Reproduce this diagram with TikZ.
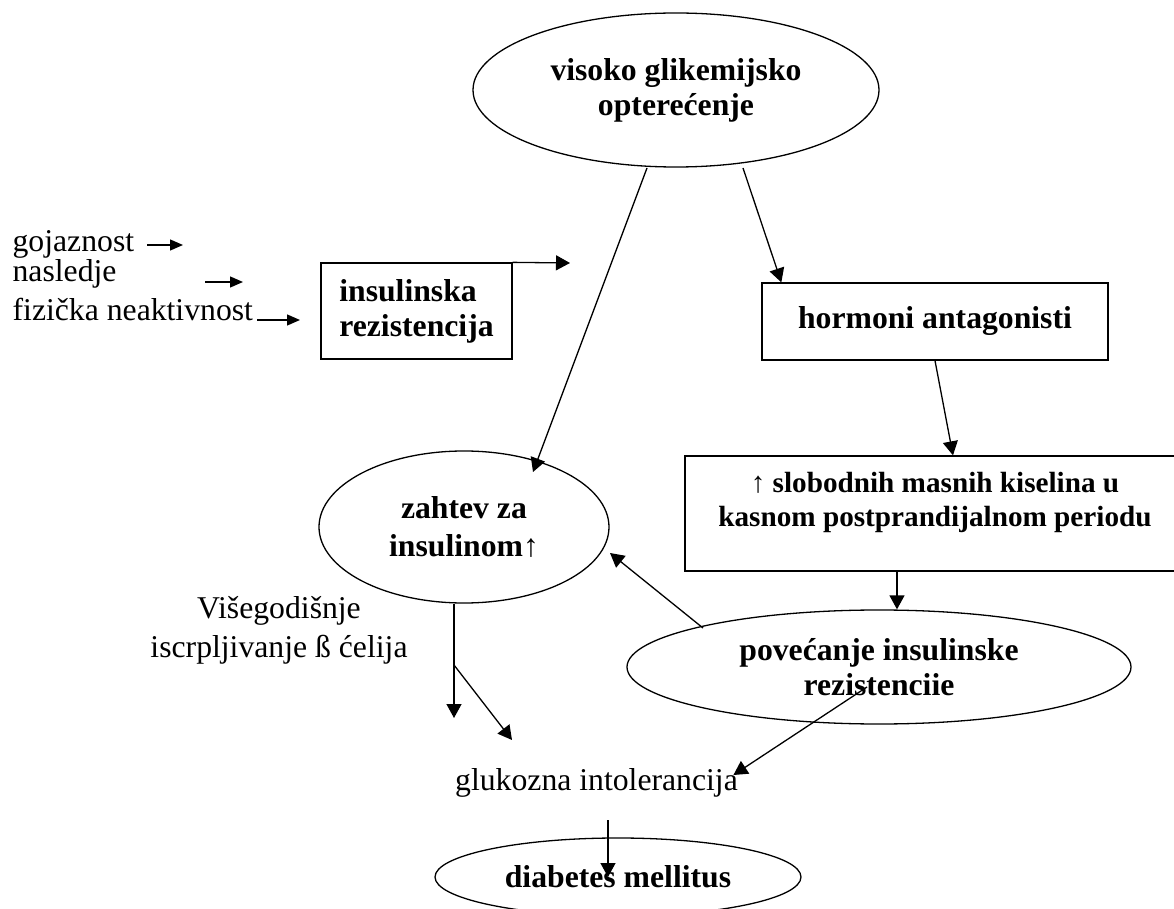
\documentclass[tikz,border=0pt]{standalone}
\usepackage{fontspec}
\setmainfont{Liberation Serif}
\usetikzlibrary{shapes.geometric,arrows.meta}
\newcommand{\dfont}{\fontsize{15.85}{17.5}\selectfont}
\begin{document}
\begin{tikzpicture}[x=0.5pt, y=-0.5pt, line width=0.65pt, >={Triangle[length=7pt,width=7.5pt]},
  bx/.style={draw, rectangle, inner sep=0pt, font=\dfont\bfseries},
  el/.style={draw, ellipse, inner sep=0pt, align=center, font=\dfont\bfseries},
  tx/.style={inner sep=0pt, font=\dfont},
  sa/.style={-{Triangle[length=6.5pt,width=5.5pt]}}]
\useasboundingbox (0,0) rectangle (1174,909);
\clip (0,0) rectangle (1174,909);

\node[el, minimum width=203pt, minimum height=77pt] (vg) at (676,90) {visoko glikemijsko\\opterećenje};
\node[bx, minimum width=95.5pt, minimum height=48pt, align=left] (ir) at (416.5,311) {insulinska\\rezistencija};
\node[bx, minimum width=173pt, minimum height=38.5pt] (ha) at (935,321.5) {hormoni antagonisti};
\node[bx, minimum width=250pt, minimum height=57.5pt] (sm) at (935,513.5) {};
\node[tx, font=\fontsize{14.6}{17}\selectfont\bfseries, align=center] (smt) at (935,502) {↑ slobodnih masnih kiselina u\\kasnom postprandijalnom periodu};
\node[el, minimum width=145pt, minimum height=76pt, font=\fontsize{15.85}{19}\selectfont\bfseries] (zi) at (464,527) {zahtev za\\insulinom↑};
\node[el, minimum width=252pt, minimum height=57pt] (pr) at (879,667) {povećanje insulinske\\rezistenciie};
\node[el, minimum width=183pt, minimum height=39pt] (dm) at (618,877) {diabetes mellitus};
\node[tx] (gi) at (596.5,783) {glukozna intolerancija};
\node[tx, align=center, font=\fontsize{15.85}{19.5}\selectfont] (vi) at (279,630) {Višegodišnje\\iscrpljivanje ß ćelija};
\node[tx, anchor=base west] (go) at (12,252) {gojaznost};
\node[tx, anchor=base west] (na) at (12,282) {nasledje};
\node[tx, anchor=base west] (fn) at (12,321) {fizička neaktivnost};

\coordinate (go1) at (147,245);
\coordinate (go2) at (183,245);
\coordinate (na1) at (205,282);
\coordinate (na2) at (243,282);
\coordinate (fn1) at (257,320);
\coordinate (fn2) at (300,320);
\coordinate (irt) at (570,263);
\coordinate (sm1) at ([xshift=-19pt]sm.south);
\coordinate (zs) at ([xshift=-5pt]zi.south);
\coordinate (zb) at (454,665);
\coordinate (ze) at (454,718);
\coordinate (gt) at (512,740);
\coordinate (gd) at (608,820);

\draw[sa] (go1) -- (go2);
\draw[sa] (na1) -- (na2);
\draw[sa] (fn1) -- (fn2);
\draw[->] (ir.north east) -- (irt);
\draw[->] ([shift={(-14.5pt,-39pt)}]vg.center) -- ([shift={(34.5pt,27.5pt)}]zi.center);
\draw[->] ([shift={(33.5pt,-39pt)}]vg.center) -- ([xshift=10pt]ha.north west);
\draw[->] (ha.south) -- ([xshift=9pt]sm.north);
\draw[->] (sm1) -- (sm1 |- pr.north);
\draw[->] ([shift={(-88pt,19.5pt)}]pr.center) -- ([shift={(73pt,-13pt)}]zi.center);
\draw[->] (zs) -- (ze);
\draw[->] (zb) -- (gt);
\draw[->] ([shift={(-6pt,-10pt)}]pr.center) -- ([xshift=-2.5pt,yshift=4pt]gi.east);
\draw[->] (gd) -- (gd |- dm.center);
\end{tikzpicture}
\end{document}
